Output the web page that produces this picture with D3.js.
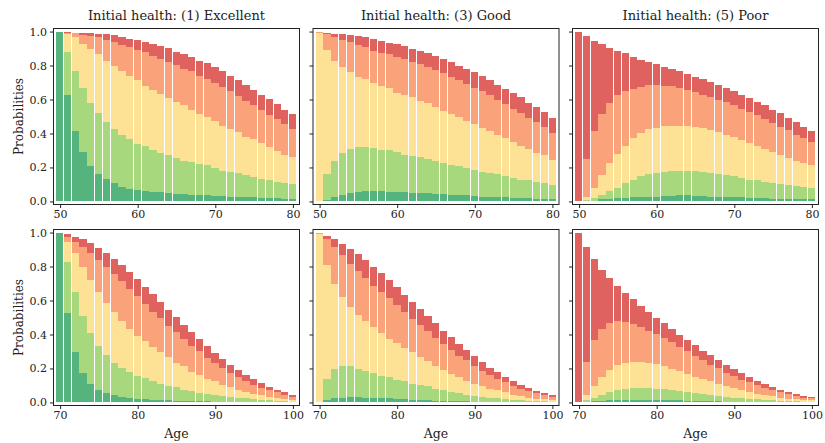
<!DOCTYPE html>
<html>
<head>
<meta charset="utf-8">
<script src="https://cdn.jsdelivr.net/npm/d3@7"></script>
<style>
  body { margin: 0; background: #fff; }
  svg text { font-family: "DejaVu Serif", serif; fill: #222; }
</style>
</head>
<body>
<div id="chart"></div>
<script>
// ages on the x axis
const agesTop = d3.range(50, 81);
const agesBottom = d3.range(70, 101);

const states = ["Excellent", "Very good", "Good", "Fair", "Poor"];
const stateColors = ["#55b37e", "#a8d87d", "#fde296", "#faa27a", "#e0625e"];

// cumulative probabilities read bottom -> top:
// exc = P(excellent), vg = P(<= very good), good = P(<= good), fair = P(<= fair), alive = total
// top row, starting at 50, initial health (1) Excellent
const t1_exc = [0.995, 0.624, 0.412, 0.29, 0.208, 0.163, 0.131, 0.108, 0.084, 0.075, 0.069, 0.063, 0.057, 0.053, 0.049, 0.045, 0.043, 0.039, 0.037, 0.035, 0.033, 0.031, 0.029, 0.025, 0.025, 0.024, 0.02, 0.018, 0.018, 0.016, 0.014];
const t1_vg = [0.995, 0.882, 0.767, 0.665, 0.582, 0.518, 0.47, 0.425, 0.392, 0.367, 0.339, 0.324, 0.3, 0.286, 0.271, 0.257, 0.241, 0.231, 0.222, 0.212, 0.196, 0.182, 0.176, 0.165, 0.153, 0.143, 0.135, 0.124, 0.114, 0.108, 0.1];
const t1_good = [0.995, 0.986, 0.967, 0.927, 0.9, 0.865, 0.829, 0.8, 0.765, 0.737, 0.712, 0.68, 0.657, 0.633, 0.61, 0.588, 0.565, 0.539, 0.516, 0.496, 0.473, 0.445, 0.429, 0.408, 0.382, 0.365, 0.343, 0.32, 0.296, 0.276, 0.261];
const t1_fair = [0.995, 0.99, 0.99, 0.98, 0.976, 0.967, 0.951, 0.937, 0.92, 0.908, 0.894, 0.878, 0.859, 0.839, 0.818, 0.804, 0.78, 0.765, 0.737, 0.718, 0.696, 0.673, 0.649, 0.618, 0.594, 0.565, 0.539, 0.51, 0.486, 0.457, 0.427];
const t1_alive = [1.0, 0.997, 0.994, 0.992, 0.99, 0.988, 0.984, 0.978, 0.97, 0.957, 0.951, 0.941, 0.927, 0.916, 0.902, 0.882, 0.869, 0.849, 0.829, 0.814, 0.79, 0.765, 0.741, 0.712, 0.688, 0.657, 0.629, 0.604, 0.571, 0.541, 0.512];

// top row, (3) Good
const t3_exc = [0, 0.01, 0.025, 0.037, 0.051, 0.057, 0.061, 0.061, 0.059, 0.055, 0.053, 0.053, 0.051, 0.049, 0.047, 0.045, 0.041, 0.039, 0.037, 0.035, 0.031, 0.029, 0.027, 0.025, 0.024, 0.022, 0.02, 0.018, 0.016, 0.014, 0.012];
const t3_vg = [0.002, 0.159, 0.241, 0.286, 0.306, 0.32, 0.32, 0.312, 0.304, 0.3, 0.29, 0.276, 0.269, 0.261, 0.251, 0.241, 0.227, 0.216, 0.206, 0.196, 0.186, 0.176, 0.167, 0.159, 0.149, 0.139, 0.129, 0.124, 0.114, 0.106, 0.098];
const t3_good = [0.994, 0.894, 0.829, 0.79, 0.761, 0.735, 0.718, 0.696, 0.682, 0.665, 0.641, 0.627, 0.612, 0.594, 0.578, 0.555, 0.535, 0.516, 0.496, 0.476, 0.453, 0.433, 0.414, 0.394, 0.373, 0.349, 0.327, 0.306, 0.288, 0.271, 0.245];
const t3_fair = [0.995, 0.984, 0.967, 0.953, 0.937, 0.922, 0.908, 0.888, 0.875, 0.869, 0.853, 0.839, 0.82, 0.81, 0.79, 0.771, 0.755, 0.735, 0.712, 0.692, 0.669, 0.649, 0.624, 0.598, 0.571, 0.545, 0.52, 0.492, 0.467, 0.437, 0.402];
const t3_alive = [1.0, 0.992, 0.988, 0.986, 0.978, 0.973, 0.967, 0.957, 0.943, 0.933, 0.927, 0.914, 0.898, 0.888, 0.873, 0.859, 0.839, 0.82, 0.8, 0.78, 0.761, 0.739, 0.716, 0.688, 0.663, 0.641, 0.614, 0.582, 0.555, 0.524, 0.492];

// top row, (5) Poor
const t5_exc = [0, 0.002, 0.005, 0.012, 0.016, 0.018, 0.022, 0.024, 0.025, 0.027, 0.029, 0.031, 0.033, 0.035, 0.035, 0.033, 0.031, 0.029, 0.029, 0.027, 0.025, 0.024, 0.022, 0.02, 0.018, 0.016, 0.016, 0.014, 0.014, 0.012, 0.012];
const t5_vg = [0.001, 0.008, 0.02, 0.035, 0.059, 0.082, 0.108, 0.129, 0.147, 0.159, 0.169, 0.176, 0.182, 0.182, 0.182, 0.182, 0.176, 0.169, 0.163, 0.155, 0.147, 0.137, 0.129, 0.124, 0.114, 0.108, 0.104, 0.098, 0.09, 0.084, 0.08];
const t5_good = [0.002, 0.025, 0.08, 0.155, 0.224, 0.28, 0.329, 0.373, 0.402, 0.425, 0.435, 0.443, 0.447, 0.447, 0.445, 0.437, 0.431, 0.418, 0.408, 0.392, 0.378, 0.363, 0.345, 0.327, 0.31, 0.29, 0.275, 0.257, 0.241, 0.225, 0.212];
const t5_fair = [0.004, 0.249, 0.412, 0.512, 0.582, 0.627, 0.653, 0.663, 0.673, 0.684, 0.684, 0.682, 0.678, 0.669, 0.657, 0.643, 0.627, 0.614, 0.6, 0.584, 0.565, 0.545, 0.525, 0.506, 0.486, 0.461, 0.441, 0.418, 0.394, 0.373, 0.349];
const t5_alive = [1.0, 0.971, 0.947, 0.924, 0.906, 0.888, 0.873, 0.853, 0.833, 0.822, 0.81, 0.794, 0.78, 0.765, 0.751, 0.735, 0.722, 0.706, 0.688, 0.669, 0.653, 0.629, 0.606, 0.588, 0.565, 0.539, 0.518, 0.492, 0.469, 0.439, 0.416];

// bottom row, starting at 70, (1) Excellent
const b1_exc = [0.995, 0.529, 0.298, 0.176, 0.11, 0.075, 0.057, 0.045, 0.031, 0.025, 0.022, 0.018, 0.014, 0.012, 0.012, 0.01, 0.008, 0.008, 0.006, 0.006, 0.004, 0.004, 0.004, 0.004, 0.003, 0.003, 0.002, 0.002, 0.001, 0.001, 0.001];
const b1_vg = [0.996, 0.825, 0.649, 0.51, 0.41, 0.333, 0.28, 0.235, 0.204, 0.18, 0.157, 0.141, 0.124, 0.11, 0.098, 0.088, 0.075, 0.065, 0.057, 0.049, 0.043, 0.037, 0.031, 0.027, 0.024, 0.02, 0.016, 0.012, 0.01, 0.008, 0.005];
const b1_good = [0.997, 0.947, 0.882, 0.796, 0.722, 0.649, 0.588, 0.533, 0.48, 0.433, 0.394, 0.359, 0.324, 0.294, 0.265, 0.235, 0.212, 0.182, 0.163, 0.139, 0.124, 0.104, 0.088, 0.075, 0.063, 0.051, 0.041, 0.031, 0.025, 0.02, 0.014];
const b1_fair = [0.998, 0.975, 0.947, 0.914, 0.882, 0.839, 0.798, 0.755, 0.712, 0.669, 0.624, 0.578, 0.535, 0.496, 0.451, 0.414, 0.375, 0.333, 0.3, 0.261, 0.231, 0.202, 0.173, 0.149, 0.125, 0.104, 0.086, 0.071, 0.059, 0.045, 0.033];
const b1_alive = [1.0, 0.99, 0.973, 0.963, 0.939, 0.91, 0.878, 0.845, 0.81, 0.767, 0.727, 0.68, 0.639, 0.594, 0.545, 0.504, 0.457, 0.414, 0.375, 0.333, 0.292, 0.257, 0.222, 0.192, 0.163, 0.139, 0.114, 0.09, 0.075, 0.061, 0.045];

// bottom row, (3) Good
const b3_exc = [0, 0.014, 0.024, 0.029, 0.031, 0.031, 0.029, 0.027, 0.025, 0.024, 0.022, 0.02, 0.016, 0.014, 0.012, 0.01, 0.01, 0.008, 0.008, 0.006, 0.005, 0.004, 0.004, 0.003, 0.003, 0.002, 0.002, 0.001, 0.001, 0.001, 0.001];
const b3_vg = [0.002, 0.139, 0.198, 0.212, 0.212, 0.198, 0.188, 0.175, 0.157, 0.147, 0.135, 0.124, 0.11, 0.104, 0.094, 0.08, 0.071, 0.063, 0.055, 0.045, 0.039, 0.033, 0.027, 0.024, 0.02, 0.016, 0.012, 0.01, 0.008, 0.006, 0.005];
const b3_good = [0.994, 0.81, 0.698, 0.62, 0.563, 0.516, 0.48, 0.445, 0.408, 0.375, 0.351, 0.32, 0.294, 0.269, 0.245, 0.216, 0.192, 0.169, 0.151, 0.129, 0.11, 0.098, 0.082, 0.071, 0.059, 0.045, 0.037, 0.029, 0.022, 0.018, 0.014];
const b3_fair = [0.995, 0.961, 0.914, 0.865, 0.816, 0.775, 0.735, 0.688, 0.653, 0.612, 0.573, 0.531, 0.494, 0.457, 0.418, 0.382, 0.343, 0.31, 0.276, 0.247, 0.216, 0.186, 0.161, 0.139, 0.118, 0.098, 0.08, 0.067, 0.053, 0.043, 0.033];
const b3_alive = [1.0, 0.98, 0.963, 0.933, 0.904, 0.875, 0.839, 0.796, 0.763, 0.722, 0.68, 0.633, 0.59, 0.551, 0.51, 0.467, 0.422, 0.384, 0.345, 0.308, 0.276, 0.241, 0.204, 0.18, 0.151, 0.127, 0.104, 0.086, 0.069, 0.057, 0.045];

// bottom row, (5) Poor
const b5_exc = [0, 0.004, 0.008, 0.01, 0.012, 0.014, 0.016, 0.016, 0.016, 0.016, 0.014, 0.014, 0.012, 0.012, 0.01, 0.01, 0.008, 0.007, 0.006, 0.005, 0.004, 0.004, 0.003, 0.003, 0.002, 0.002, 0.001, 0.001, 0.001, 0.001, 0.001];
const b5_vg = [0.001, 0.012, 0.027, 0.045, 0.063, 0.075, 0.082, 0.086, 0.086, 0.086, 0.082, 0.08, 0.075, 0.069, 0.063, 0.057, 0.051, 0.045, 0.039, 0.033, 0.029, 0.025, 0.022, 0.018, 0.015, 0.012, 0.01, 0.008, 0.006, 0.005, 0.004];
const b5_good = [0.002, 0.045, 0.098, 0.151, 0.192, 0.222, 0.235, 0.241, 0.241, 0.235, 0.227, 0.216, 0.198, 0.186, 0.167, 0.151, 0.139, 0.124, 0.108, 0.094, 0.084, 0.073, 0.063, 0.051, 0.043, 0.035, 0.027, 0.022, 0.018, 0.014, 0.012];
const b5_fair = [0.003, 0.241, 0.369, 0.435, 0.469, 0.478, 0.475, 0.463, 0.445, 0.422, 0.402, 0.378, 0.353, 0.325, 0.3, 0.275, 0.247, 0.222, 0.2, 0.175, 0.157, 0.135, 0.12, 0.102, 0.086, 0.071, 0.059, 0.047, 0.039, 0.029, 0.025];
const b5_alive = [1.0, 0.916, 0.847, 0.78, 0.735, 0.686, 0.643, 0.61, 0.569, 0.531, 0.498, 0.465, 0.433, 0.398, 0.369, 0.339, 0.304, 0.28, 0.251, 0.222, 0.198, 0.175, 0.151, 0.129, 0.11, 0.092, 0.076, 0.063, 0.051, 0.039, 0.033];

const titles = ["Initial health: (1) Excellent", "Initial health: (3) Good", "Initial health: (5) Poor"];
const xTicksTop = [50, 60, 70, 80];
const xTicksBottom = [70, 80, 90, 100];
const yTicks = [0, 0.2, 0.4, 0.6, 0.8, 1.0];

const panels = [
  {row: 0, col: 0, ages: agesTop, cum: [t1_exc, t1_vg, t1_good, t1_fair, t1_alive]},
  {row: 0, col: 1, ages: agesTop, cum: [t3_exc, t3_vg, t3_good, t3_fair, t3_alive]},
  {row: 0, col: 2, ages: agesTop, cum: [t5_exc, t5_vg, t5_good, t5_fair, t5_alive]},
  {row: 1, col: 0, ages: agesBottom, cum: [b1_exc, b1_vg, b1_good, b1_fair, b1_alive]},
  {row: 1, col: 1, ages: agesBottom, cum: [b3_exc, b3_vg, b3_good, b3_fair, b3_alive]},
  {row: 1, col: 2, ages: agesBottom, cum: [b5_exc, b5_vg, b5_good, b5_fair, b5_alive]}
];

// layout
const width = 825, height = 443;
const colLeft = [53.5, 313, 572.5];
const rowTop = [28.5, 229.5];
const pw = 246, ph = 176;

const svg = d3.select("#chart").append("svg")
    .attr("width", width)
    .attr("height", height);

panels.forEach(p => {
    const g = svg.append("g")
        .attr("transform", `translate(${colLeft[p.col]},${rowTop[p.row]})`);

    const a0 = p.ages[0], a1 = p.ages[p.ages.length - 1];
    const x = d3.scaleLinear().domain([a0 - 0.85, a1 + 0.85]).range([0, pw]);
    const y = d3.scaleLinear().domain([-0.018, 1.018]).range([ph, 0]);

    // turn cumulative readings into per-state shares, then stack them
    const rows = p.ages.map((age, i) => {
        const r = {age: age};
        states.forEach((s, k) => {
            r[s] = p.cum[k][i] - (k > 0 ? p.cum[k - 1][i] : 0);
        });
        return r;
    });
    const stacked = d3.stack().keys(states)(rows);

    const step = x(a0 + 1) - x(a0);
    g.selectAll(".layer")
        .data(stacked)
        .enter().append("g")
        .attr("class", "layer")
        .attr("fill", (d, k) => stateColors[k])
        .selectAll("rect")
        .data(d => d)
        .enter().append("rect")
        .attr("x", d => x(d.data.age) - step / 2)
        .attr("width", step - 0.55)
        .attr("y", d => y(d[1]))
        .attr("height", d => Math.max(0, y(d[0]) - y(d[1])))
        .attr("shape-rendering", "crispEdges");

    // frame
    g.append("rect")
        .attr("width", pw).attr("height", ph)
        .attr("fill", "none")
        .attr("stroke", "#222")
        .attr("stroke-width", 1);

    // x axis
    const xTicks = p.row === 0 ? xTicksTop : xTicksBottom;
    const xAxis = g.append("g")
        .attr("transform", `translate(0,${ph})`)
        .call(d3.axisBottom(x).tickValues(xTicks).tickSize(3.5).tickPadding(2.5).tickFormat(d3.format("d")));
    xAxis.select(".domain").remove();
    xAxis.selectAll("text").style("font-size", "11px").style("font-family", "DejaVu Serif, serif").attr("fill", "#222");
    xAxis.selectAll("line").attr("stroke", "#222");

    // y axis
    const yAxis = g.append("g")
        .call(d3.axisLeft(y).tickValues(yTicks).tickSize(3.5).tickPadding(3)
            .tickFormat(p.col === 0 ? d3.format(".1f") : ""));
    yAxis.select(".domain").remove();
    yAxis.selectAll("text").style("font-size", "11px").style("font-family", "DejaVu Serif, serif").attr("fill", "#222");
    yAxis.selectAll("line").attr("stroke", "#222");

    if (p.row === 0) {
        g.append("text")
            .attr("x", pw / 2).attr("y", -8.5)
            .attr("text-anchor", "middle")
            .style("font-size", "13px")
            .text(titles[p.col]);
    }
    if (p.row === 1) {
        g.append("text")
            .attr("x", pw / 2).attr("y", ph + 32)
            .attr("text-anchor", "middle")
            .style("font-size", "12.5px")
            .text("Age");
    }
    if (p.col === 0) {
        g.append("text")
            .attr("transform", `translate(-31,${ph / 2}) rotate(-90)`)
            .attr("text-anchor", "middle")
            .style("font-size", "12px")
            .text("Probabilities");
    }
});
</script>
</body>
</html>
